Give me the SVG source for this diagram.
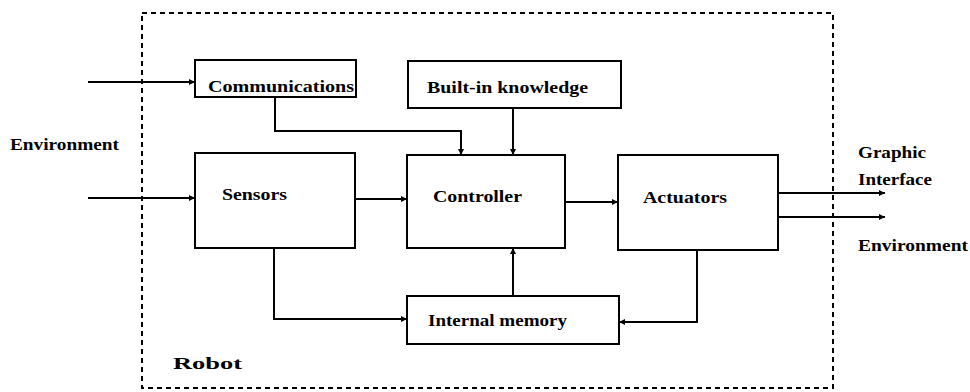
<svg xmlns="http://www.w3.org/2000/svg" width="970" height="392" viewBox="0 0 970 392">
  <style>
    .box { fill: #ffffff; stroke: #000000; stroke-width: 2; }
    .wire { fill: none; stroke: #000000; stroke-width: 2; marker-end: url(#head); }
    .frame { fill: none; stroke: #000000; stroke-width: 2; stroke-dasharray: 5 4; }
    text { font-family: "Liberation Serif", "Times New Roman", serif; font-weight: bold; font-size: 16px; fill: #000000; }
  </style>
  <defs>
    <marker id="head" viewBox="0 0 10 10" refX="10" refY="5" markerWidth="8" markerHeight="6" markerUnits="userSpaceOnUse" orient="auto">
      <path d="M0,0 L10,5 L0,10 z" fill="#000000"/>
    </marker>
  </defs>

  <rect width="970" height="392" fill="#ffffff"/>

  <!-- robot boundary -->
  <g id="robot">
    <rect class="frame" x="142" y="13" width="691" height="375"/>
    <text x="173" y="369" textLength="69" lengthAdjust="spacingAndGlyphs">Robot</text>
  </g>

  <!-- outside labels -->
  <g id="env-in">
    <text x="10" y="150" textLength="109" lengthAdjust="spacingAndGlyphs">Environment</text>
  </g>
  <g id="graphic-out">
    <text x="858" y="158" textLength="68" lengthAdjust="spacingAndGlyphs">Graphic</text>
    <text x="858" y="185" textLength="74" lengthAdjust="spacingAndGlyphs">Interface</text>
  </g>
  <g id="env-out">
    <text x="858" y="251" textLength="110" lengthAdjust="spacingAndGlyphs">Environment</text>
  </g>

  <!-- connectors -->
  <g id="connectors">
    <path class="wire" d="M88,82 H195"/>
    <path class="wire" d="M88,198 H195"/>
    <path class="wire" d="M275,97 V131 H461 V155"/>
    <path class="wire" d="M513,108 V155"/>
    <path class="wire" d="M355,199 H407"/>
    <path class="wire" d="M565,202 H618"/>
    <path class="wire" d="M778,193 H885"/>
    <path class="wire" d="M778,217 H885"/>
    <path class="wire" d="M274,248 V319 H407"/>
    <path class="wire" d="M697,250 V322 H619"/>
    <path class="wire" d="M513,296 V248"/>
  </g>

  <!-- blocks -->
  <g id="communications">
    <rect class="box" x="195" y="60" width="161" height="37"/>
    <text x="208" y="92" textLength="146" lengthAdjust="spacingAndGlyphs">Communications</text>
  </g>
  <g id="knowledge">
    <rect class="box" x="408" y="61" width="213" height="47"/>
    <text x="427" y="93" textLength="161" lengthAdjust="spacingAndGlyphs">Built-in knowledge</text>
  </g>
  <g id="sensors">
    <rect class="box" x="195" y="153" width="160" height="95"/>
    <text x="222" y="200" textLength="65" lengthAdjust="spacingAndGlyphs">Sensors</text>
  </g>
  <g id="controller">
    <rect class="box" x="407" y="155" width="158" height="93"/>
    <text x="433" y="202" textLength="89" lengthAdjust="spacingAndGlyphs">Controller</text>
  </g>
  <g id="actuators">
    <rect class="box" x="618" y="155" width="160" height="95"/>
    <text x="643" y="203" textLength="84" lengthAdjust="spacingAndGlyphs">Actuators</text>
  </g>
  <g id="memory">
    <rect class="box" x="407" y="296" width="212" height="48"/>
    <text x="428" y="326" textLength="139" lengthAdjust="spacingAndGlyphs">Internal memory</text>
  </g>
</svg>
